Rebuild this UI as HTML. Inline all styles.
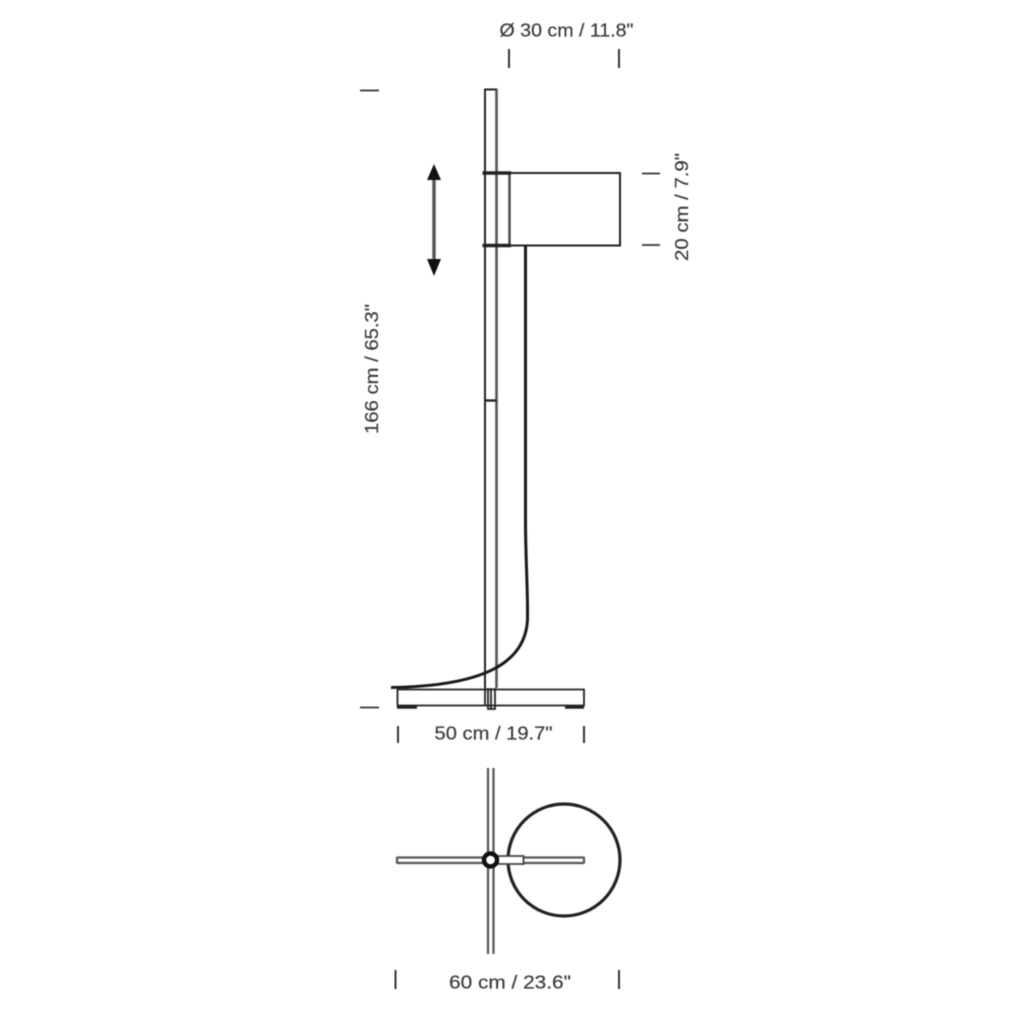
<!DOCTYPE html>
<html><head><meta charset="utf-8"><style>
html,body{margin:0;padding:0;background:#fff}
svg{display:block;filter:blur(.5px)}
text{font-family:"Liberation Sans",sans-serif;font-size:18.500px;fill:#3a3a3a;stroke:#3a3a3a;stroke-width:.2px}
</style></head><body>
<svg width="1024" height="1024" viewBox="0 0 1024 1024" xmlns="http://www.w3.org/2000/svg">
<rect width="1024" height="1024" fill="#fff"/>
<g fill="none" stroke="#222" stroke-width="1.8">
<!-- pole -->
<path d="M485 688V89.500H496.500V688" stroke-width="2"/>
<path d="M496.500 89.500V688" stroke="#555" stroke-width="2.600"/>
<path d="M485 400.500H496.500" stroke-width="2.400"/>
<!-- shade -->
<path d="M510 173H620V245.500H510" stroke-width="2"/>
<path d="M509.500 173V245.500" stroke="#444" stroke-width="2.400"/>
<path d="M482.500 173H511M482.500 245.500H511" stroke-width="3.400"/>
<!-- cable -->
<path d="M525.500 246V520C525.500 560 528 590 527.500 620C525 665 480 686 391 687.500" stroke-width="3" stroke="#1a1a1a"/>
<!-- base -->
<path d="M397.500 689.500H584V705.500H397.500Z" stroke-width="1.800"/>
<path d="M397 707H417M565 707H584" stroke-width="3.400"/>
<path d="M485 688V705M488 688V709H495V688M491 688V709" stroke-width="1.800"/>
<!-- arrow -->
<path d="M434 176V262" stroke="#555" stroke-width="3.400"/>
<!-- dims -->
<path d="M360 90.500H379M360 707.500H379M642 173.500H660M642 245H660" stroke="#333" stroke-width="1.800"/>
<path d="M509 49V68M619 49V68M398 726V743M584 726V743M395.500 970V989M619 970V989" stroke="#333" stroke-width="2"/>
<!-- top view -->
<circle cx="564" cy="860" r="56" stroke-width="3.200"/>
<path d="M397 857.500H484M497 857.500H584M397 863H484M497 863H584" stroke="#555" stroke-width="2.200"/>
<path d="M397 857V863.500M584 857V863.500M488 768V853M493.500 768V853M488 867V954M493.500 867V954" stroke="#555" stroke-width="2.200"/>
<rect x="498" y="856" width="25.500" height="8" fill="#fff" stroke="#444" stroke-width="1.800"/>
<circle cx="490.500" cy="860" r="6.500" fill="#fff" stroke="#111" stroke-width="4.400"/>
</g>
<path d="M434 164L441 180H427ZM434 276L441 259H427Z" fill="#111"/>
<text x="499.500" y="36.500" textLength="134" lengthAdjust="spacingAndGlyphs">Ø 30 cm / 11.8"</text>
<text x="434.500" y="739.500" textLength="118" lengthAdjust="spacingAndGlyphs">50 cm / 19.7"</text>
<text x="449" y="988.500" textLength="122" lengthAdjust="spacingAndGlyphs">60 cm / 23.6"</text>
<text transform="translate(378 434) rotate(-90)" textLength="130" lengthAdjust="spacingAndGlyphs">166 cm / 65.3"</text>
<text transform="translate(688 261) rotate(-90)" textLength="108" lengthAdjust="spacingAndGlyphs">20 cm / 7.9"</text>
</svg>
</body></html>
